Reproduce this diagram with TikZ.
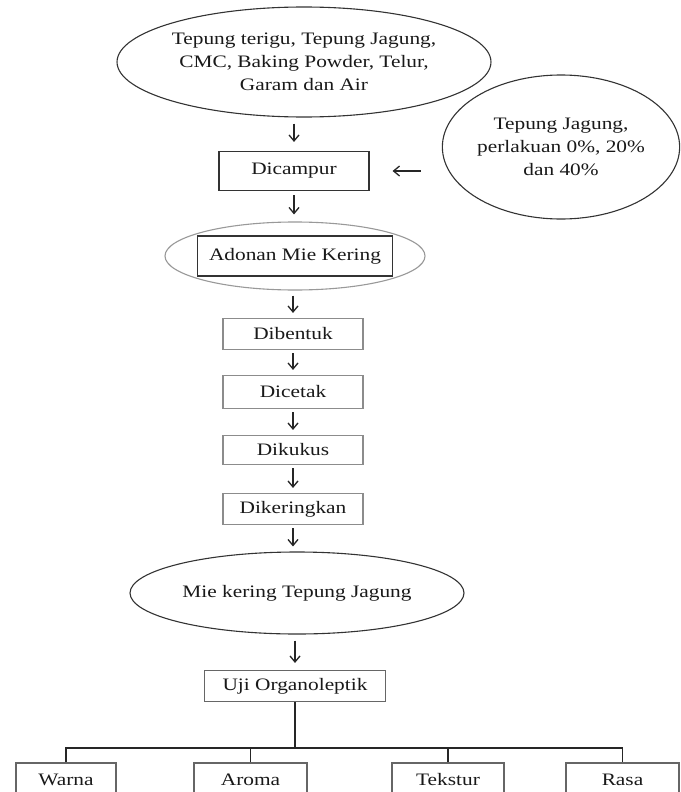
\documentclass[tikz,border=0pt]{standalone}
\usepackage{fontspec}
\setmainfont{Liberation Serif}[FakeStretch=1.22]
\usetikzlibrary{shapes.geometric,arrows.meta,calc}
\begin{document}
\begin{tikzpicture}[x=1pt,y=-1pt,
  font=\fontsize{17.5}{23}\selectfont,
  ell/.style={ellipse, draw=black!80, line width=1.1pt, inner sep=0pt, align=center, text=black!90},
  boxn/.style={rectangle, draw=black!80, line width=1.1pt, inner sep=0pt, align=center, text=black!90},
  gbox/.style={boxn, draw=black!45},
  arr/.style={-{Straight Barb[length=6pt,width=10pt]}, line width=1.3pt, draw=black!85},
  tree/.style={line width=1.8pt, draw=black!85}]
\clip (0,0) rectangle (680,792);
\fill[white] (0,0) rectangle (680,792);

\node[ell, minimum width=320, minimum height=110] (src) at (304,62)
  {Tepung terigu, Tepung Jagung,\\CMC, Baking Powder, Telur,\\Garam dan Air};
\node[boxn, minimum width=150, minimum height=39] (mix) at (294,171) {Dicampur};
\node[ell, minimum width=236, minimum height=144] (jg) at (561,147)
  {Tepung Jagung,\\perlakuan 0\%, 20\%\\dan 40\%};
\node[ell, draw=black!40, minimum width=260, minimum height=68] (adoe) at (295,256) {};
\node[boxn, minimum width=195, minimum height=40] (ado) at (295,256) {Adonan Mie Kering};
\node[gbox, minimum width=140, minimum height=31] (b1) at (293,334) {Dibentuk};
\node[gbox, minimum width=140, minimum height=33] (b2) at (293,392) {Dicetak};
\node[gbox, minimum width=140, minimum height=29] (b3) at (293,450) {Dikukus};
\node[gbox, minimum width=140, minimum height=31] (b4) at (293,509) {Dikeringkan};
\node[ell, minimum width=334, minimum height=82] (mie) at (297,593) {Mie kering Tepung Jagung};
\node[gbox, draw=black!60, minimum width=181, minimum height=31] (uji) at (295,686) {Uji Organoleptik};

\node[gbox, draw=black!60, minimum width=100, minimum height=34] (warna) at (66,780) {Warna};
\node[gbox, draw=black!60, minimum width=113, minimum height=34] (aroma) at (250.5,780) {Aroma};
\node[gbox, draw=black!60, minimum width=112, minimum height=34] (tekstur) at (448,780) {Tekstur};
\node[gbox, draw=black!60, minimum width=113, minimum height=34] (rasa) at (622.5,780) {Rasa};

\draw[arr, shorten <=6pt, shorten >=9pt] (mix.north |- src.south) -- (mix.north);
\draw[arr, shorten <=4pt, shorten >=7pt] (mix.south) -- (mix.south |- adoe.north);
\draw[arr, shorten <=5pt, shorten >=5pt] (b1.north |- adoe.south) -- (b1.north);
\draw[arr, shorten <=3pt, shorten >=5pt] (b1.south) -- (b2.north);
\draw[arr, shorten <=3pt, shorten >=5pt] (b2.south) -- (b3.north);
\draw[arr, shorten <=3pt, shorten >=5pt] (b3.south) -- (b4.north);
\draw[arr, shorten <=3pt, shorten >=5pt] (b4.south) -- (b4.south |- mie.north);
\draw[arr, shorten <=6pt, shorten >=7pt] (uji.north |- mie.south) -- (uji.north);
\draw[arr, shorten <=21pt, shorten >=23pt] (jg.west |- mix.east) -- (mix.east);

\coordinate (bar) at (295,748);
\draw[tree] (uji.south) -- (bar);
\draw[tree] (warna.north) |- (bar) -| (rasa.north);
\draw[tree] (aroma.north) -- (aroma.north |- bar);
\draw[tree] (tekstur.north) -- (tekstur.north |- bar);
\end{tikzpicture}
\end{document}
